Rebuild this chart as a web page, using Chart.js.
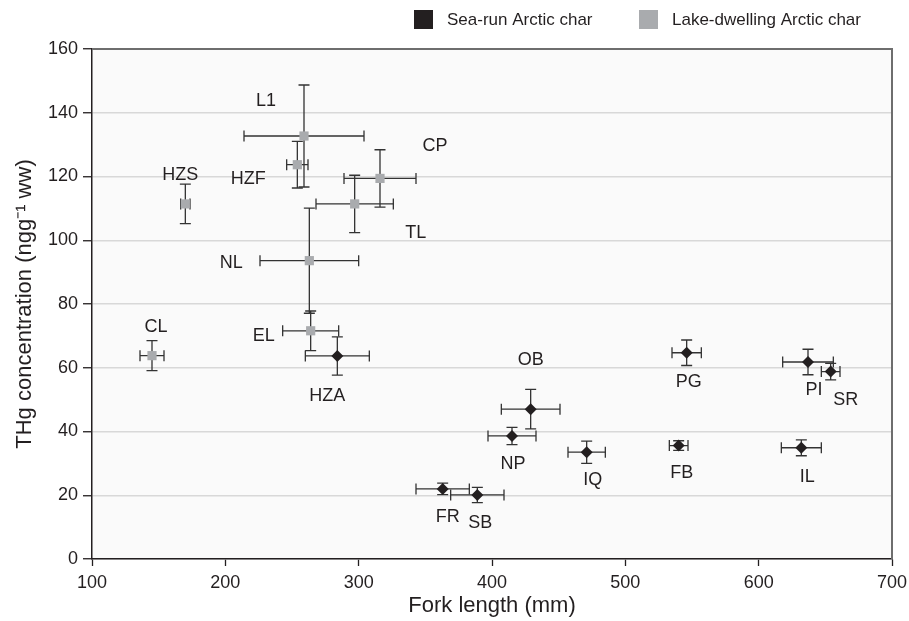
<!DOCTYPE html>
<html lang="en">
<head>
<meta charset="UTF-8">
<title>THg concentration vs fork length</title>
<style>
    body { margin: 0; background: #ffffff; }
    .chart-container {
        position: relative;
        width: 909px;
        height: 621px;
    }
</style>
</head>
<body>
<div class="chart-container">
    <canvas id="myChart"></canvas>
</div>

<script src="https://cdn.jsdelivr.net/npm/chart.js@4.4.1/dist/chart.umd.min.js"></script>
<script>
    // Sea-run Arctic char (black diamonds)
    const seaSites = ['HZA', 'OB', 'NP', 'FR', 'SB', 'IQ', 'FB', 'PG', 'PI', 'SR', 'IL'];
    const seaLength = [284, 429, 415, 363, 389, 471, 540, 546, 637, 654, 632];
    const seaLengthErr = [24, 22, 18, 20, 20, 14, 7, 11, 19, 7, 15];
    const seaThg = [63.7, 47, 38.6, 22, 20.1, 33.5, 35.6, 64.7, 61.8, 58.8, 34.9];
    const seaThgErr = [6, 6.2, 2.7, 1.8, 2.4, 3.5, 1.5, 4, 4, 2.6, 2.5];

    // Lake-dwelling Arctic char (grey squares)
    const lakeSites = ['L1', 'HZF', 'HZS', 'CP', 'TL', 'NL', 'EL', 'CL'];
    const lakeLength = [259, 254, 170, 316, 297, 263, 264, 145];
    const lakeLengthErr = [45, 8, 3.5, 27, 29, 37, 21, 9];
    const lakeThg = [132.7, 123.7, 111.4, 119.4, 111.4, 93.6, 71.6, 63.8];
    const lakeThgErr = [16, 7.3, 6.2, 9, 9, 16.5, 6.2, 4.7];

    // where each site name sits relative to its marker (px)
    const seaLabelOffsets = [[-10, 40], [0, -49], [1, 28], [5, 28], [3, 28], [6, 28], [3, 28], [2, 29], [6, 28], [15, 28], [6, 29]];
    const lakeLabelOffsets = [[-38, -35], [-49, 14], [-5, -29], [55, -32], [61, 29], [-78, 2], [-47, 5], [4, -29]];

    const DARK = '#231f20';
    const GREY = '#a9abae';
    const FONT = '"Liberation Sans", Arial, Helvetica, sans-serif';

    function toPoints(xs, ys, xe, ye) {
        return xs.map((x, i) => ({ x: x, y: ys[i], xe: xe[i], ye: ye[i] }));
    }

    // light plot background + grey frame on top/right
    const plotFrame = {
        id: 'plotFrame',
        beforeDraw(chart) {
            const { ctx, chartArea: a } = chart;
            ctx.save();
            ctx.fillStyle = '#fafafa';
            ctx.fillRect(a.left, a.top, a.right - a.left, a.bottom - a.top);
            ctx.restore();
        },
        afterDraw(chart) {
            const { ctx, chartArea: a } = chart;
            ctx.save();
            ctx.strokeStyle = '#6e6e6e';
            ctx.lineWidth = 2;
            ctx.beginPath();
            ctx.moveTo(a.left, a.top);
            ctx.lineTo(a.right, a.top);
            ctx.lineTo(a.right, a.bottom);
            ctx.stroke();
            ctx.restore();
        }
    };

    // x and y error bars, drawn under the markers
    const errorBars = {
        id: 'errorBars',
        beforeDatasetsDraw(chart) {
            const { ctx } = chart;
            const xs = chart.scales.x, ys = chart.scales.y;
            const cap = 5.5;
            ctx.save();
            ctx.strokeStyle = '#333333';
            ctx.lineWidth = 1.3;
            chart.data.datasets.forEach(ds => {
                ds.data.forEach(p => {
                    const cx = xs.getPixelForValue(p.x), cy = ys.getPixelForValue(p.y);
                    const x0 = xs.getPixelForValue(p.x - p.xe), x1 = xs.getPixelForValue(p.x + p.xe);
                    const y0 = ys.getPixelForValue(p.y - p.ye), y1 = ys.getPixelForValue(p.y + p.ye);
                    ctx.beginPath();
                    ctx.moveTo(x0, cy); ctx.lineTo(x1, cy);
                    ctx.moveTo(x0, cy - cap); ctx.lineTo(x0, cy + cap);
                    ctx.moveTo(x1, cy - cap); ctx.lineTo(x1, cy + cap);
                    ctx.moveTo(cx, y0); ctx.lineTo(cx, y1);
                    ctx.moveTo(cx - cap, y0); ctx.lineTo(cx + cap, y0);
                    ctx.moveTo(cx - cap, y1); ctx.lineTo(cx + cap, y1);
                    ctx.stroke();
                });
            });
            ctx.restore();
        }
    };

    // site names next to each marker
    const siteLabels = {
        id: 'siteLabels',
        afterDatasetsDraw(chart) {
            const { ctx } = chart;
            ctx.save();
            ctx.font = '18px ' + FONT;
            ctx.fillStyle = DARK;
            ctx.textAlign = 'center';
            ctx.textBaseline = 'middle';
            chart.data.datasets.forEach((ds, i) => {
                const meta = chart.getDatasetMeta(i);
                meta.data.forEach((el, j) => {
                    const off = ds.labelOffsets[j];
                    ctx.fillText(ds.siteNames[j], el.x + off[0], el.y + off[1]);
                });
            });
            ctx.restore();
        }
    };

    // legend with square swatches, top right
    const boxLegend = {
        id: 'boxLegend',
        afterDraw(chart) {
            const { ctx } = chart;
            const xs = [414, 639];
            ctx.save();
            ctx.font = '17px ' + FONT;
            ctx.textBaseline = 'middle';
            ctx.textAlign = 'left';
            chart.data.datasets.forEach((ds, i) => {
                ctx.fillStyle = ds.backgroundColor;
                ctx.fillRect(xs[i], 10, 19, 19);
                ctx.fillStyle = DARK;
                ctx.fillText(ds.label, xs[i] + 33, 20);
            });
            ctx.restore();
        }
    };

    const ctx = document.getElementById('myChart').getContext('2d');
    const myChart = new Chart(ctx, {
        type: 'scatter',
        data: {
            datasets: [{
                label: 'Sea-run Arctic char',
                data: toPoints(seaLength, seaThg, seaLengthErr, seaThgErr),
                siteNames: seaSites,
                labelOffsets: seaLabelOffsets,
                backgroundColor: DARK,
                borderColor: DARK,
                pointStyle: 'rectRot',
                pointRadius: 6,
                pointBorderWidth: 0
            }, {
                label: 'Lake-dwelling Arctic char',
                data: toPoints(lakeLength, lakeThg, lakeLengthErr, lakeThgErr),
                siteNames: lakeSites,
                labelOffsets: lakeLabelOffsets,
                backgroundColor: GREY,
                borderColor: GREY,
                pointStyle: 'rect',
                pointRadius: 6.5,
                pointBorderWidth: 0
            }]
        },
        options: {
            responsive: true,
            maintainAspectRatio: false,
            animation: false,
            layout: { padding: { top: 49, right: 17, bottom: 0, left: 0 } },
            scales: {
                x: {
                    type: 'linear',
                    min: 100,
                    max: 700,
                    afterFit(scale) {
                        scale.height = 62;
                        scale.paddingRight = 0;
                        scale.paddingLeft = 0;
                    },
                    ticks: {
                        stepSize: 100,
                        padding: 6,
                        color: DARK,
                        font: { family: FONT, size: 18 }
                    },
                    grid: {
                        drawOnChartArea: false,
                        tickLength: 7,
                        tickColor: DARK,
                        tickWidth: 1.3
                    },
                    border: { color: DARK, width: 1.5 },
                    title: {
                        display: true,
                        text: 'Fork length (mm)',
                        color: DARK,
                        padding: { top: 0, bottom: 2 },
                        font: { family: FONT, size: 22 }
                    }
                },
                y: {
                    type: 'linear',
                    min: 0,
                    max: 160,
                    afterFit(scale) { scale.width = 92; },
                    ticks: {
                        stepSize: 20,
                        padding: 5,
                        color: DARK,
                        font: { family: FONT, size: 18 }
                    },
                    grid: {
                        color: '#d8d8d8',
                        lineWidth: 1.5,
                        tickLength: 9,
                        tickColor: DARK,
                        tickWidth: 1.3
                    },
                    border: { color: DARK, width: 1.5 },
                    title: {
                        display: true,
                        text: 'THg concentration (ngg\u207B\u00B9 ww)',
                        color: DARK,
                        padding: { top: 12, bottom: 0 },
                        font: { family: FONT, size: 22 }
                    }
                }
            },
            plugins: {
                legend: { display: false },
                tooltip: { enabled: false }
            }
        },
        plugins: [plotFrame, errorBars, siteLabels, boxLegend]
    });
</script>

</body>
</html>
